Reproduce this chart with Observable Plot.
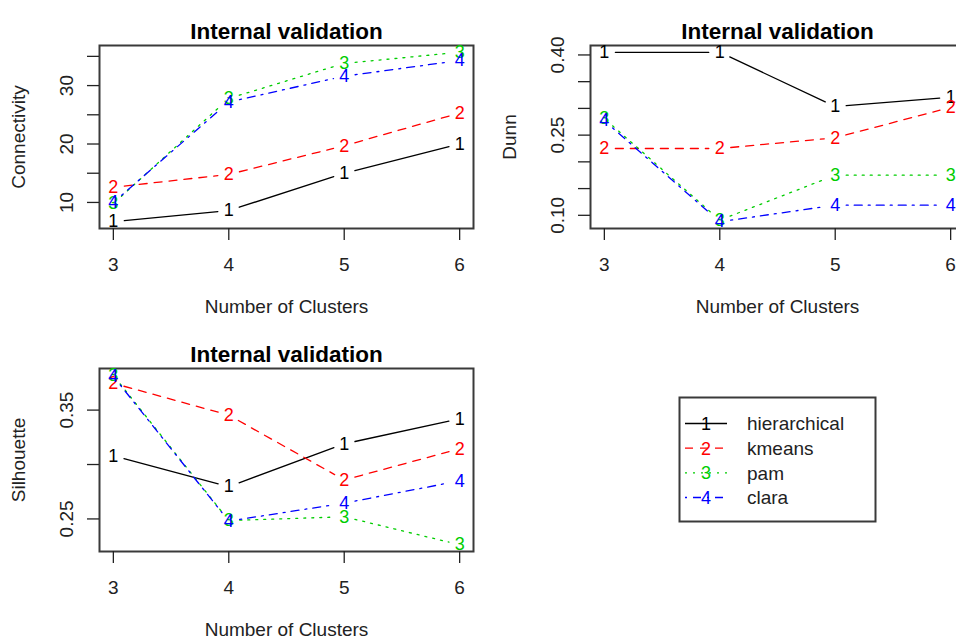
<!DOCTYPE html>
<html><head><meta charset="utf-8">
<script src="https://cdn.jsdelivr.net/npm/d3@7"></script>
<script src="https://cdn.jsdelivr.net/npm/@observablehq/plot@0.6"></script>
<style>
html,body{margin:0;padding:0;background:#fff;overflow:hidden;}
#root{position:relative;width:956px;height:643px;overflow:hidden;font-family:"Liberation Sans",Arial,Helvetica,sans-serif;}
.panel{position:absolute;}
</style></head><body><div id="root"></div>
<script>
// ---- data ----
const clusters = [3, 4, 5, 6];
const methods = ["hierarchical", "kmeans", "pam", "clara"];
const symbols = ["1", "2", "3", "4"];
const colors = ["#000000", "#FF0000", "#00CD00", "#0000FF"];
const dashes = [null, "8,7", "2,6", "2,6,8,6"];

const connHierarchical = [6.7, 8.6, 15.0, 20.0];
const connKmeans = [12.6, 14.8, 19.7, 25.3];
const connPam = [9.8, 27.8, 33.8, 35.7];
const connClara = [10.0, 27.2, 31.6, 34.3];

const dunnHierarchical = [0.405, 0.405, 0.3035, 0.321];
const dunnKmeans = [0.225, 0.225, 0.245, 0.302];
const dunnPam = [0.281, 0.091, 0.175, 0.175];
const dunnClara = [0.277, 0.088, 0.119, 0.119];

const silHierarchical = [0.308, 0.2797, 0.319, 0.342];
const silKmeans = [0.3746, 0.3454, 0.2858, 0.3145];
const silPam = [0.382, 0.2485, 0.252, 0.2263];
const silClara = [0.381, 0.248, 0.2645, 0.285];

const connTicks = [10, 15, 20, 25, 30, 35];
const connTickLabels = ["10", "", "20", "", "30", ""];
const dunnTicks = [0.10, 0.15, 0.20, 0.25, 0.30, 0.35, 0.40];
const dunnTickLabels = ["0.10", "", "", "0.25", "", "", "0.40"];
const silTicks = [0.25, 0.30, 0.35];
const silTickLabels = ["0.25", "", "0.35"];

const title = "Internal validation";
const xTitle = "Number of Clusters";

const FONT = "Liberation Sans, Arial, Helvetica, sans-serif";
const root = document.getElementById("root");

function panel(series, ylabel, ticks, tickLabels, left, top) {
  const all = series.flat();
  const [lo, hi] = d3.extent(all);
  const pad = (hi - lo) * 0.04;
  const [xlo, xhi] = d3.extent(clusters);
  const xpad = (xhi - xlo) * 0.04;
  const marks = [
    Plot.frame({stroke: "#3a3a3a", strokeWidth: 2}),
    Plot.axisX({ticks: clusters, tickSize: 12, tickPadding: 17, fontSize: 19, label: null,
      tickFormat: d => String(d), stroke: "#222", fill: "#222", strokeWidth: 1.3}),
    Plot.axisY({ticks, tickSize: 12, tickPadding: 15, tickRotate: -90, fontSize: 19, label: null,
      tickFormat: (d, i) => tickLabels[ticks.indexOf(d)] ?? "", stroke: "#222", fill: "#222", strokeWidth: 1.3})
  ];
  series.forEach((vals, s) => {
    const segs = d3.range(vals.length - 1).map(i => ({x1: clusters[i], y1: vals[i], x2: clusters[i + 1], y2: vals[i + 1]}));
    marks.push(Plot.arrow(segs, {x1: "x1", y1: "y1", x2: "x2", y2: "y2", stroke: colors[s],
      strokeDasharray: dashes[s], strokeWidth: 1.3, headLength: 0, insetStart: 11, insetEnd: 11}));
  });
  series.forEach((vals, s) => {
    const pts = vals.map((v, i) => ({k: clusters[i], v}));
    marks.push(Plot.text(pts, {x: "k", y: "v", text: () => symbols[s], fill: colors[s], fontSize: 18}));
  });
  marks.push(Plot.text([title], {text: d => d, frameAnchor: "top", dy: -22, fontSize: 22.5, fontWeight: "bold", fill: "#000"}));
  marks.push(Plot.text([xTitle], {text: d => d, frameAnchor: "bottom", dy: 84, fontSize: 19, fill: "#222"}));
  marks.push(Plot.text([ylabel], {text: d => d, frameAnchor: "left", textAnchor: "middle", dx: -81, rotate: -90, fontSize: 19, fill: "#222"}));
  const svg = Plot.plot({
    width: 478, height: 330,
    marginLeft: 99, marginRight: 5, marginTop: 45, marginBottom: 102,
    x: {domain: [xlo - xpad, xhi + xpad]},
    y: {domain: [lo - pad, hi + pad]},
    style: {fontFamily: FONT, fontSize: "19px", background: "transparent", color: "#222"},
    marks
  });
  svg.classList.add("panel");
  svg.style.left = left + "px";
  svg.style.top = top + "px";
  root.appendChild(svg);
}

panel([connHierarchical, connKmeans, connPam, connClara], "Connectivity", connTicks, connTickLabels, 0, 0);
panel([dunnHierarchical, dunnKmeans, dunnPam, dunnClara], "Dunn", dunnTicks, dunnTickLabels, 491, 0);
panel([silHierarchical, silKmeans, silPam, silClara], "Silhouette", silTicks, silTickLabels, 0, 323);

// ---- legend ----
const lg = d3.select(root).append("svg").attr("class", "panel")
  .style("left", "0px").style("top", "0px").attr("width", 956).attr("height", 643)
  .style("font-family", FONT);
lg.append("rect").attr("x", 679.5).attr("y", 397.5).attr("width", 196).attr("height", 124)
  .attr("fill", "none").attr("stroke", "#3a3a3a").attr("stroke-width", 2);
const rowY = d3.scalePoint().domain(methods).range([423.5, 497.5]);
methods.forEach((m, s) => {
  const y = rowY(m);
  lg.append("line").attr("x1", 685).attr("x2", 727).attr("y1", y).attr("y2", y)
    .attr("stroke", colors[s]).attr("stroke-width", 1.3).attr("stroke-dasharray", dashes[s]);
  lg.append("text").attr("x", 706).attr("y", y).attr("dy", "0.36em").attr("text-anchor", "middle")
    .attr("font-size", 18).attr("fill", colors[s]).text(symbols[s]);
  lg.append("text").attr("x", 747).attr("y", y).attr("dy", "0.36em")
    .attr("font-size", 19).attr("fill", "#222").text(m);
});
</script></body></html>
